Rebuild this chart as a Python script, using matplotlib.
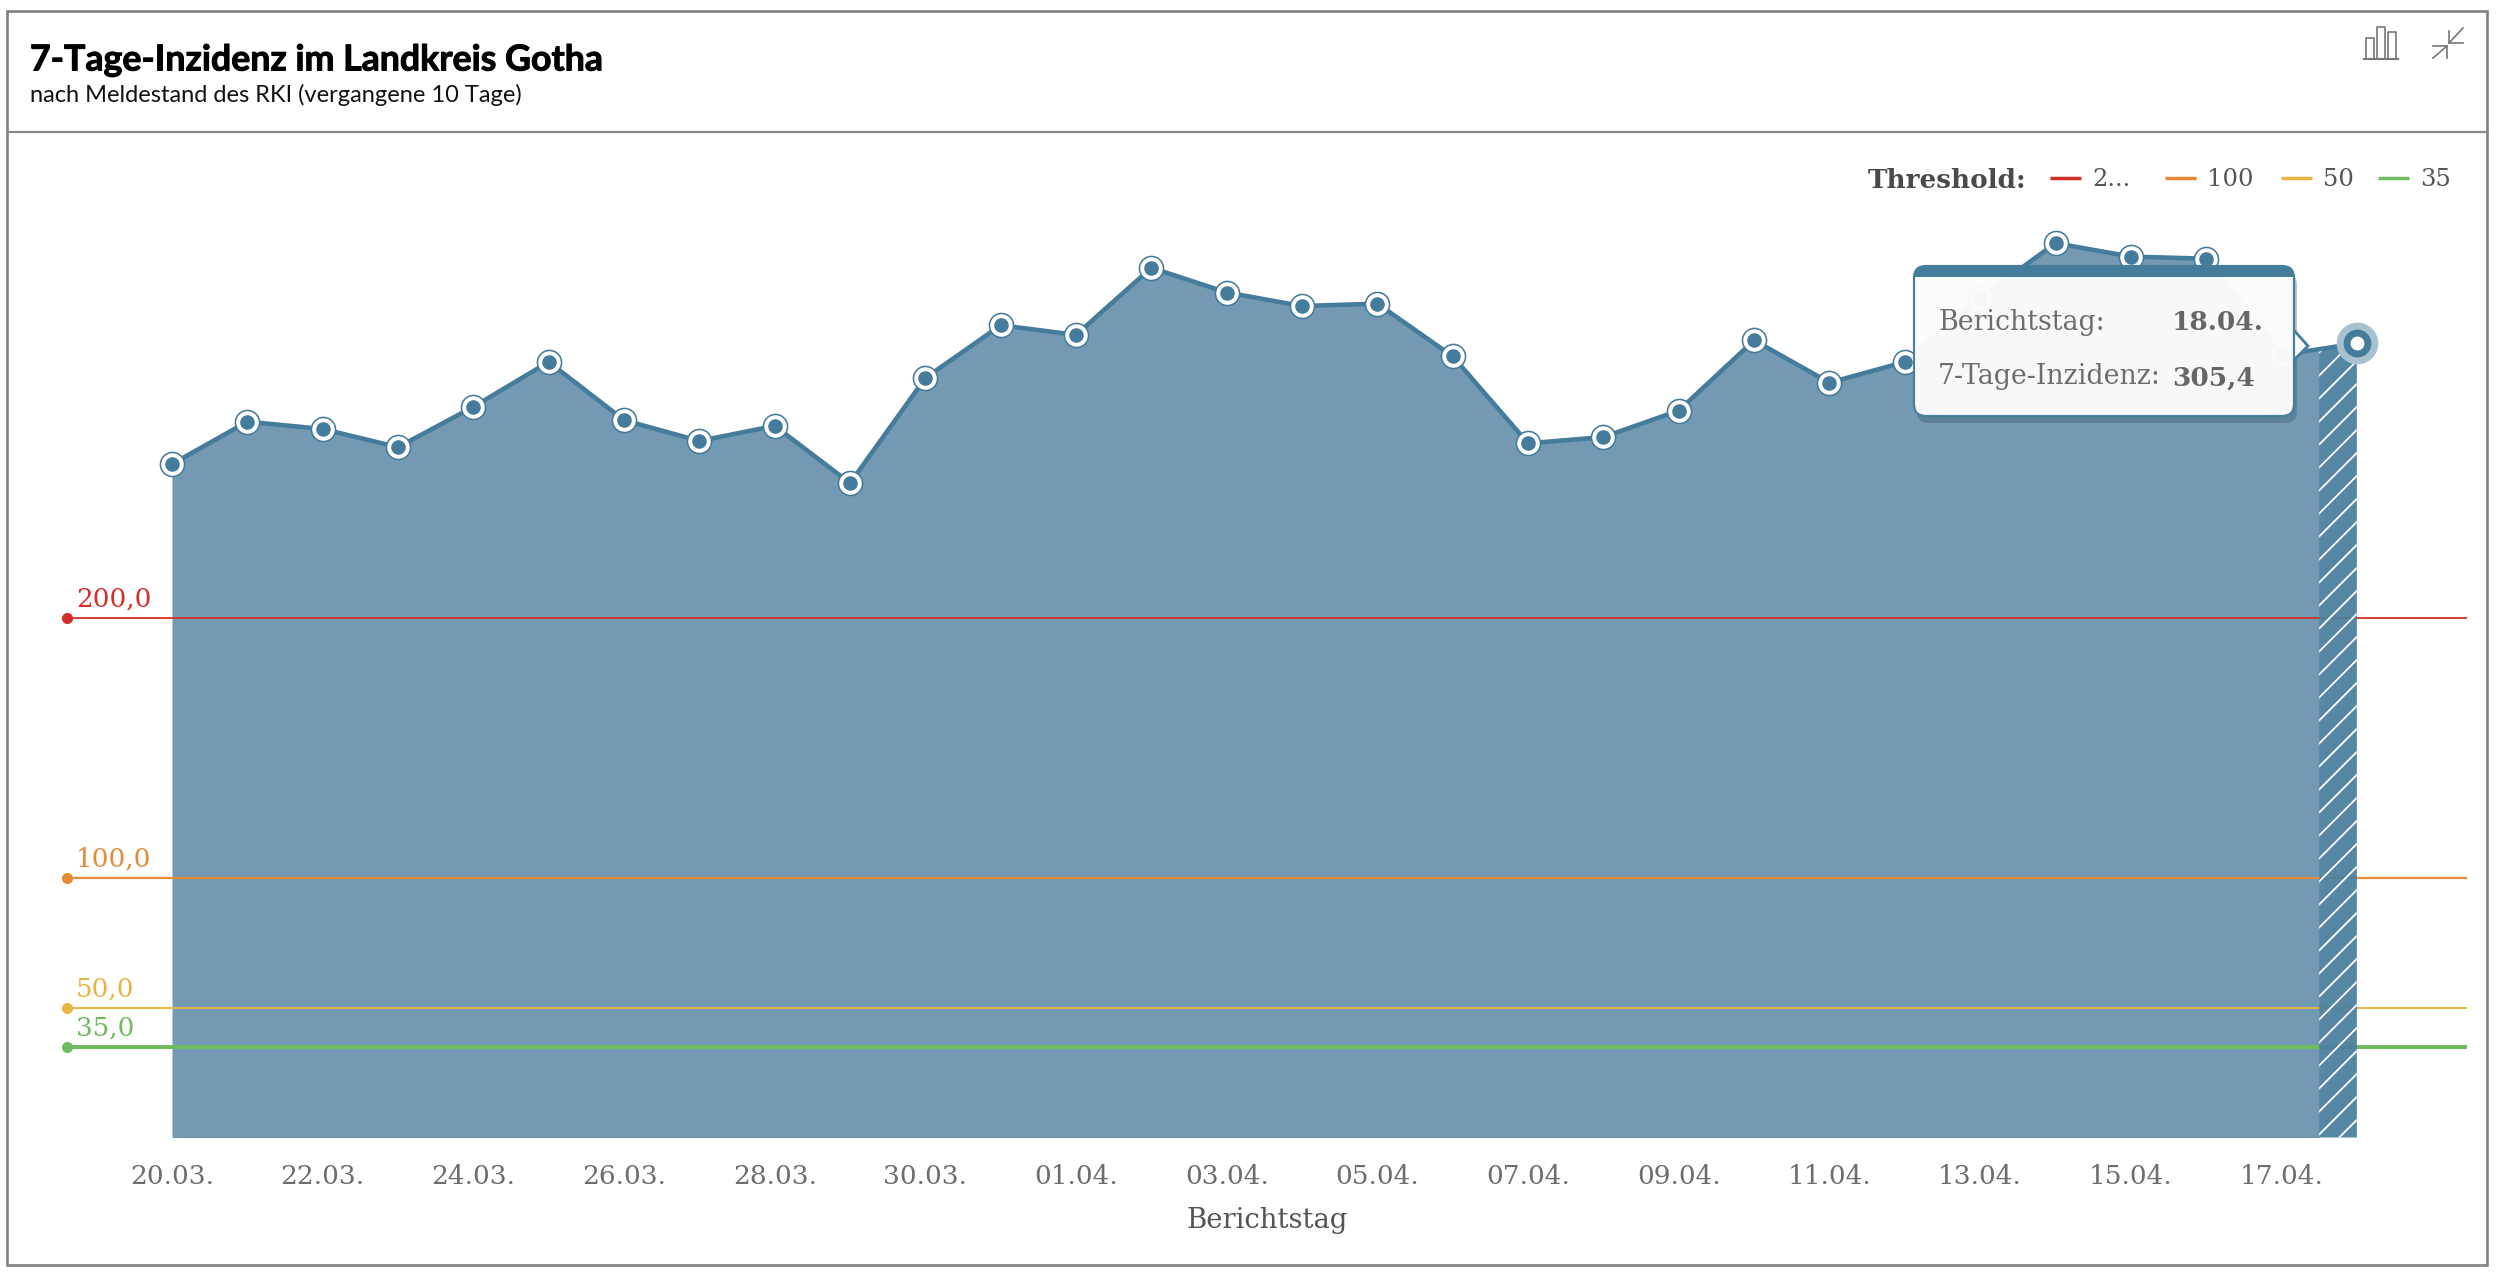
import matplotlib
matplotlib.use('Agg')
import matplotlib.pyplot as plt
import matplotlib.patheffects as pe
import numpy as np
from matplotlib.patches import FancyBboxPatch, Polygon, Rectangle

# Daten
tage = ['20.03.', '21.03.', '22.03.', '23.03.', '24.03.', '25.03.', '26.03.', '27.03.', '28.03.', '29.03.',
        '30.03.', '31.03.', '01.04.', '02.04.', '03.04.', '04.04.', '05.04.', '06.04.', '07.04.', '08.04.',
        '09.04.', '10.04.', '11.04.', '12.04.', '13.04.', '14.04.', '15.04.', '16.04.', '17.04.', '18.04.']
inzidenz = [259.0, 275.3, 272.5, 265.5, 281.0, 298.3, 275.9, 267.9, 273.7, 251.7,
            292.1, 312.4, 308.7, 334.5, 325.0, 319.8, 320.7, 300.4, 267.0, 269.4,
            279.6, 306.6, 290.3, 298.3, 322.8, 344.0, 338.8, 338.0, 301.0, 305.4]
schwellen = [200.0, 100.0, 50.0, 35.0]
schwellen_text = ['200,0', '100,0', '50,0', '35,0']
schwellen_farben = ['#d32f27', '#e58a37', '#e8b544', '#6fbb5f']
schwellen_breite = [1.3, 1.6, 1.4, 2.9]
legende_text = ['2...', '100', '50', '35']

B, H = 2501, 1273
SERIF = 'DejaVu Serif'
FLAECHE = '#739ab2'
LINIE = '#467c9b'
GRAU = '#6d6d6d'

fig = plt.figure(figsize=(B / 100, H / 100), dpi=100, facecolor='white')

# Hauptachse: x in Tagen, y in Inzidenz
ax = fig.add_axes([67 / B, 1 - 1137.5 / H, (2467 - 67) / B, (1137.5 - 132) / H])
px_x = 75.34
px_y = 2.6
ax.set_xlim((67 - 172) / px_x, (2467 - 172) / px_x)
ax.set_ylim(0, (1137.5 - 132) / px_y)
for s in ax.spines.values():
    s.set_visible(False)
ax.set_yticks([])

x = np.arange(len(inzidenz))
y = np.array(inzidenz)

# Fläche bis zur Mitte zwischen den letzten beiden Tagen, danach schraffiert
grenze = len(x) - 1.5
y_grenze = (y[-2] + y[-1]) / 2
ax.fill_between(np.append(x[:-1], grenze), np.append(y[:-1], y_grenze), 0, color=FLAECHE, lw=0, zorder=2)

xmin, xmax = ax.get_xlim()
for wert, text, farbe, lw in zip(schwellen, schwellen_text, schwellen_farben, schwellen_breite):
    ax.plot([xmin, xmax], [wert, wert], color=farbe, lw=lw, zorder=3, solid_capstyle='butt')
    ax.plot([xmin], [wert], 'o', color=farbe, ms=7, clip_on=False, zorder=3)
    ax.annotate(text, (xmin, wert), xytext=(6.5, 4), textcoords='offset points', color=farbe,
                fontsize=18.8, family=SERIF, va='bottom')

band = Polygon([[grenze, 0], [grenze, y_grenze], [x[-1], y[-1]], [x[-1], 0]], closed=True,
               facecolor='#4a7f9e', edgecolor='none', alpha=0.94, zorder=4)
ax.add_patch(band)

# weisse Schraffur im letzten Balken
for start in np.arange(-900, 60, 23.0):
    strich, = ax.plot([grenze + start / px_x, grenze + (start + 900) / px_x], [0, 900 / px_y],
                      color='white', lw=1.3, zorder=5)
    strich.set_clip_path(band)

ax.plot(x, y, color=LINIE, lw=3.3, zorder=6, solid_joinstyle='round')
ax.plot(x[:-1], y[:-1], 'o', color=LINIE, ms=18.5, mew=0, zorder=7)
ax.plot(x[:-1], y[:-1], 'o', color='white', ms=16.2, mew=0, zorder=8)
ax.plot(x[:-1], y[:-1], 'o', color=LINIE, ms=10.5, mew=0, zorder=9)
ax.plot(x[-1:], y[-1:], 'o', color='#a7c1d0', ms=30, mew=0, zorder=7, clip_on=False)
ax.plot(x[-1:], y[-1:], 'o', color=LINIE, ms=20, mew=0, zorder=8)
ax.plot(x[-1:], y[-1:], 'o', color='white', ms=10, mew=0, zorder=9)

ax.set_xticks(x[:-1:2])
ax.set_xticklabels(tage[:-1:2], family=SERIF, fontsize=19, color=GRAU)
ax.tick_params(axis='x', length=0, pad=19)
ax.set_xlabel('Berichtstag', family=SERIF, fontsize=19.8, color='#555555', labelpad=13)

# Rahmen, Kopf, Legende und Tooltip in Pixelkoordinaten
ov = fig.add_axes([0, 0, 1, 1], facecolor='none')
ov.set_xlim(0, B)
ov.set_ylim(H, 0)
ov.axis('off')

ov.add_patch(Rectangle((6.5, 11), 2487 - 6.5, 1264.5 - 11, fill=False, ec='#808080', lw=1.9))
ov.plot([6.5, 2487], [132, 132], color='#888888', lw=1.6)

titel = ov.text(30, 60, '7-Tage-Inzidenz im Landkreis Gotha', family='Lato', weight='bold', fontsize=25.7,
                color='#000000', va='center')
titel.set_path_effects([pe.withStroke(linewidth=0.7, foreground='#000000')])
ov.text(30, 95, 'nach Meldestand des RKI (vergangene 10 Tage)', family='Lato', fontsize=17,
        color='#111111', va='center')

# Symbole oben rechts
for links, oben, rechts in [(2366, 38, 2374), (2377, 27, 2385), (2388, 32, 2396)]:
    ov.plot([links, links, rechts, rechts], [58, oben, oben, 58], color='#777777', lw=1.2)
ov.plot([2364, 2398], [59, 59], color='#777777', lw=1.5)
for p in [[(2463, 28), (2449, 43)], [(2449, 31), (2449, 43), (2463, 43)],
          [(2433, 58), (2447, 46)], [(2433, 46), (2447, 46), (2447, 58)]]:
    ov.plot(*zip(*p), color='#777777', lw=1.2)

# Legende
ov.text(1868, 180, 'Threshold:', family=SERIF, weight='bold', fontsize=18.9, color='#4a4a4a', va='center')
leg_x = [2050, 2165, 2281, 2378]
for lx, text, farbe in zip(leg_x, legende_text, schwellen_farben):
    ov.plot([lx, lx + 31], [178, 178], color=farbe, lw=2.5, solid_capstyle='butt')
    ov.text(lx + 42, 180, text, family=SERIF, fontsize=17.5, color='#555555', va='center')

# Tooltip
t_l, t_o, t_r, t_u = 1914, 266, 2294, 416
ov.add_patch(FancyBboxPatch((t_l + 3, t_o + 7), t_r - t_l, t_u - t_o, boxstyle='round,pad=0,rounding_size=12',
                            fc='#2c4a5c', ec='none', alpha=0.3, zorder=1))
ov.add_patch(Polygon([(t_r - 2, 328), (2308, 346), (t_r - 2, 362)], closed=True, fc='#fafbfc', ec=LINIE, lw=2, zorder=2))
box = FancyBboxPatch((t_l, t_o), t_r - t_l, t_u - t_o, boxstyle='round,pad=0,rounding_size=12',
                     fc='#fdfdfe', ec=LINIE, lw=1.6, alpha=0.97, zorder=3)
ov.add_patch(box)
kopf = Rectangle((t_l, t_o), t_r - t_l, 11, fc=LINIE, ec='none', zorder=4)
ov.add_patch(kopf)
kopf.set_clip_path(box)

ov.text(1938, 323, 'Berichtstag:', family=SERIF, fontsize=19.3, color=GRAU, va='center', zorder=5)
ov.text(1938, 376, '7-Tage-Inzidenz:', family=SERIF, fontsize=19.3, color=GRAU, va='center', zorder=5)
ov.text(2172, 323, tage[-1], family=SERIF, weight='bold', fontsize=19, color='#666666', va='center', zorder=5)
ov.text(2172, 378, f'{inzidenz[-1]:.1f}'.replace('.', ','), family=SERIF, weight='bold', fontsize=19,
        color='#666666', va='center', zorder=5)

fig.savefig('out.png', dpi=100)
